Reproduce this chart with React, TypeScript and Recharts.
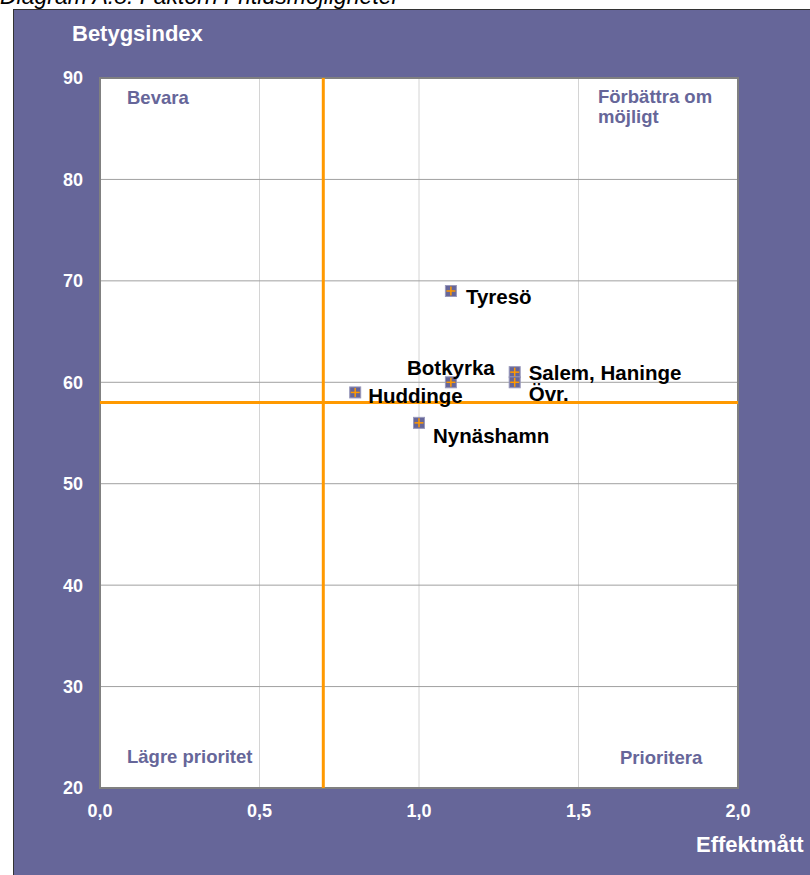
import {
  ScatterChart,
  Scatter,
  XAxis,
  YAxis,
  CartesianGrid,
  ReferenceLine,
  ReferenceArea,
} from "recharts";

const names = ["Tyresö", "Botkyrka", "Huddinge", "Nynäshamn", "Salem, Haninge", "Övr."];
const effekt = [1.1, 1.1, 0.8, 1.0, 1.3, 1.3];
const betyg = [69, 60, 59, 56, 61, 60];

const xTicks = [0, 0.5, 1, 1.5, 2];
const yTicks = [20, 30, 40, 50, 60, 70, 80, 90];
const xCut = 0.7;
const yCut = 58;

const data = names.map((name, i) => ({ name, x: effekt[i], y: betyg[i] }));

// label placement next to each marker
const labelPos: Record<string, { dx: number; dy: number; anchor: string }> = {
  "Tyresö": { dx: 15, dy: 5, anchor: "start" },
  Botkyrka: { dx: 0, dy: -15, anchor: "middle" },
  Huddinge: { dx: 13, dy: 3, anchor: "start" },
  "Nynäshamn": { dx: 14, dy: 13, anchor: "start" },
  "Salem, Haninge": { dx: 14, dy: 0, anchor: "start" },
  "Övr.": { dx: 14, dy: 11, anchor: "start" },
};

const PURPLE = "#666699";
const ORANGE = "#FF9900";
const font = "'Liberation Sans', Arial, sans-serif";

const Marker = (props: any) => {
  const { cx, cy, payload } = props;
  const p = labelPos[payload.name];
  return (
    <g>
      <rect x={cx - 5.5} y={cy - 5.5} width={11} height={11} fill={PURPLE} stroke="#9999bb" strokeWidth={1} />
      <line x1={cx - 4.5} x2={cx + 4.5} y1={cy} y2={cy} stroke={ORANGE} strokeWidth={1.5} />
      <line x1={cx} x2={cx} y1={cy - 4.5} y2={cy + 4.5} stroke={ORANGE} strokeWidth={1.5} />
      <text
        x={cx + p.dx}
        y={cy + p.dy}
        textAnchor={p.anchor as any}
        dominantBaseline="central"
        fontSize={20.5}
        fontWeight="bold"
        fill="#000"
        fontFamily={font}
      >
        {payload.name}
      </text>
    </g>
  );
};

const quadStyle: React.CSSProperties = {
  position: "absolute",
  color: PURPLE,
  fontWeight: "bold",
  fontSize: 18.5,
  lineHeight: "20px",
  fontFamily: font,
};

const axisTitle: React.CSSProperties = {
  position: "absolute",
  color: "#fff",
  fontWeight: "bold",
  fontSize: 22,
  lineHeight: "24px",
  fontFamily: font,
  whiteSpace: "nowrap",
};

const tickStyle = { fill: "#fff", fontSize: 18, fontWeight: "bold", fontFamily: font };

export default function App() {
  return (
    <div
      style={{
        position: "absolute",
        left: 0,
        top: 0,
        width: 810,
        height: 875,
        overflow: "hidden",
        background: "#fff",
      }}
    >
      <div
        style={{
          position: "absolute",
          left: 0,
          top: -18,
          fontStyle: "italic",
          fontSize: 23,
          lineHeight: "28px",
          fontFamily: font,
          whiteSpace: "nowrap",
        }}
      >
        Diagram A.8: Faktorn Fritidsmöjligheter
      </div>
      <div
        style={{
          position: "absolute",
          left: 13,
          top: 9,
          width: 796,
          height: 866,
          background: PURPLE,
          borderLeft: "1px solid #333",
          borderTop: "1px solid #333",
        }}
      >
        <ScatterChart
          width={796}
          height={866}
          margin={{ top: 68, right: 72, bottom: 0, left: 0 }}
          style={{ fontFamily: font }}
        >
          <CartesianGrid fill="#fff" stroke="#d4d4d4" horizontal={false} verticalValues={[0.5, 1, 1.5]} />
          <CartesianGrid stroke="#a0a0a0" vertical={false} fill="none" horizontalValues={[30, 40, 50, 60, 70, 80]} />
          <XAxis
            type="number"
            dataKey="x"
            domain={[0, 2]}
            ticks={xTicks}
            tickFormatter={(v: number) => v.toFixed(1).replace(".", ",")}
            height={88}
            axisLine={false}
            tickLine={false}
            tickSize={0}
            tickMargin={16}
            tick={tickStyle}
            interval={0}
          />
          <YAxis
            type="number"
            dataKey="y"
            domain={[20, 90]}
            ticks={yTicks}
            width={86}
            axisLine={false}
            tickLine={false}
            tickSize={0}
            tickMargin={17}
            tick={tickStyle}
            interval={0}
          />
          <ReferenceArea x1={0} x2={2} y1={20} y2={90} fill="none" stroke="#808080" strokeWidth={2} ifOverflow="visible" />
          <ReferenceLine x={xCut} stroke={ORANGE} strokeWidth={3} />
          <ReferenceLine y={yCut} stroke={ORANGE} strokeWidth={3} />
          <Scatter data={data} shape={Marker} isAnimationActive={false} />
        </ScatterChart>
      </div>
      <div style={{ ...axisTitle, left: 72, top: 22 }}>Betygsindex</div>
      <div style={{ ...axisTitle, left: 696, top: 833 }}>Effektmått</div>
      <div style={{ ...quadStyle, left: 127, top: 88 }}>Bevara</div>
      <div style={{ ...quadStyle, left: 598, top: 87 }}>
        Förbättra om
        <br />
        möjligt
      </div>
      <div style={{ ...quadStyle, left: 127, top: 747 }}>Lägre prioritet</div>
      <div style={{ ...quadStyle, left: 620, top: 748 }}>Prioritera</div>
    </div>
  );
}
